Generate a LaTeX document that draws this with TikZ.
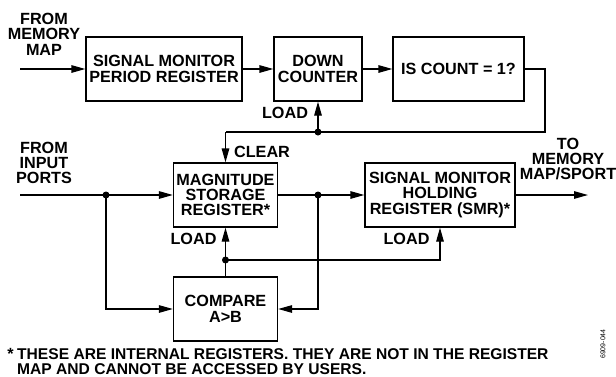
\documentclass[tikz,border=0pt]{standalone}
\usepackage{fontspec}
\setmainfont{Liberation Sans}
\usetikzlibrary{arrows.meta}
\begin{document}
\begin{tikzpicture}[x=1pt,y=-1pt,
  every node/.style={font=\fontsize{16.2}{15.4}\selectfont\bfseries, inner sep=0pt, align=center},
  blk/.style={draw, line width=1.3pt, minimum height=64pt},
  conn/.style={line width=1.3pt},
  arr/.style={conn, -{Triangle[length=14pt,width=7.5pt]}},
  dot/.style={circle, fill, minimum size=7pt, inner sep=0pt},
  fnote/.style={anchor=base west, font=\fontsize{15.6}{14}\selectfont\bfseries}
]
\useasboundingbox (0,0) rectangle (616,376);

% blocks
\node[blk, minimum width=156pt] (smpr) at (164,69) {SIGNAL MONITOR\\PERIOD REGISTER};
\node[blk, minimum width=88pt] (dc) at (318,69) {DOWN\\COUNTER};
\node[blk, minimum width=131pt] (isc) at (458.5,69) {IS COUNT = 1?};
\node[blk, minimum width=104pt] (mag) at (225.5,195) {MAGNITUDE\\STORAGE\\REGISTER*};
\node[blk, minimum width=150pt] (smr) at (440,195) {SIGNAL MONITOR\\HOLDING\\REGISTER (SMR)*};
\node[blk, minimum width=104pt] (cmp) at (225.5,309) {COMPARE\\A>B};

% coordinates
\coordinate (in1) at (20,69);
\coordinate (fb1) at (545,69);
\coordinate (fb2) at (545,132);
\coordinate (fb3) at (225.5,132);
\coordinate (in2) at (20,195);
\coordinate (out) at (588,195);
\node[dot] (j1) at (318,132) {};
\node[dot] (j2) at (106,195) {};
\node[dot] (j3) at (318,195) {};
\node[dot] (j4) at (225.5,260) {};

% connectors
\draw[arr] (in1) -- (smpr.west);
\draw[arr] (smpr.east) -- (dc.west);
\draw[arr] (dc.east) -- (isc.west);
\draw[conn] (isc.east) -- (fb1) -- (fb2) -- (fb3);
\draw[arr] (fb3) -- (mag.north);
\draw[arr] (j1.center) -- (dc.south);
\draw[arr] (in2) -- (mag.west);
\draw[arr] (j2.center) |- (cmp.west);
\draw[arr] (mag.east) -- (smr.west);
\draw[arr] (j3.center) |- (cmp.east);
\draw[arr] (smr.east) -- (out);
\draw[conn] (cmp.north) -- (j4.center);
\draw[arr] (j4.center) -- (mag.south);
\draw[arr] (j4.center) -| (smr.south);

% labels
\node (lfm) at (44,34) {FROM\\MEMORY\\MAP};
\node (lload1) at (285,113) {LOAD};
\node (lfip) at (44,163) {FROM\\INPUT\\PORTS};
\node (lclear) at (262,152) {CLEAR};
\node (lload2) at (193.5,239) {LOAD};
\node (lload3) at (406.5,239) {LOAD};
\node (lto) at (568,159) {TO\\MEMORY\\MAP/SPORT};

% footnote
\node[fnote] (fn1) at (17,359) {THESE ARE INTERNAL REGISTERS. THEY ARE NOT IN THE REGISTER};
\node[fnote] (fn2) at (17,374) {MAP AND CANNOT BE ACCESSED BY USERS.};
\node[anchor=base east] (ast) at ([xshift=-3pt]fn1.base west) {*};
\node[font=\fontsize{7}{8}\selectfont, rotate=90] (fig) at (603,344) {6909-044};
\end{tikzpicture}
\end{document}
